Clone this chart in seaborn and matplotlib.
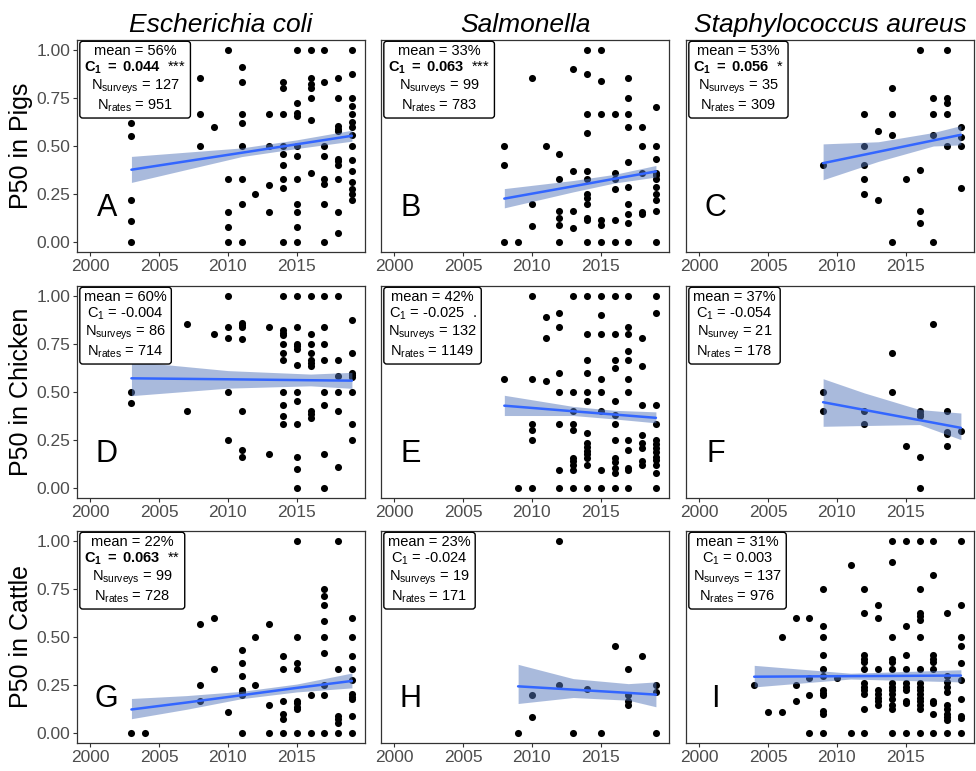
import numpy as np
import pandas as pd
import matplotlib
matplotlib.use("Agg")
import matplotlib.pyplot as plt
import seaborn as sns
from matplotlib import font_manager

# bacteria (columns) and hosts (rows)
BACTERIA = ["Escherichia coli", "Salmonella", "Staphylococcus aureus"]
HOSTS = ["Pigs", "Chicken", "Cattle"]
PANEL_LETTERS = ["A", "B", "C", "D", "E", "F", "G", "H", "I"]

# survey-level P50 values by year, one dict per panel
A_POINTS = {
    2003: [0.62, 0.55, 0.22, 0.11, 0.0],
    2008: [0.855, 0.665, 0.5],
    2009: [0.6],
    2010: [1.0, 0.33, 0.16, 0.08, 0.0],
    2011: [0.91, 0.83, 0.665, 0.62, 0.5, 0.33, 0.2, 0.0],
    2012: [0.25],
    2013: [0.665, 0.5, 0.3, 0.16],
    2014: [0.83, 0.8, 0.665, 0.5, 0.46, 0.4, 0.33, 0.28, 0.0],
    2015: [1.0, 0.725, 0.67, 0.655, 0.5, 0.45, 0.33, 0.2, 0.16, 0.08, 0.0],
    2016: [1.0, 0.855, 0.82, 0.8, 0.75, 0.635, 0.36],
    2017: [1.0, 0.83, 0.5, 0.45, 0.33, 0.305, 0.2, 0.0],
    2018: [0.855, 0.75, 0.605, 0.59, 0.58, 0.43, 0.42, 0.4, 0.33, 0.16, 0.05],
    2019: [1.0, 0.875, 0.75, 0.71, 0.665, 0.625, 0.6, 0.555, 0.5, 0.425,
           0.37, 0.315, 0.275, 0.25, 0.22],
}
B_POINTS = {
    2008: [0.5, 0.4, 0.0],
    2009: [0.0],
    2010: [0.855, 0.2, 0.085],
    2011: [0.5],
    2012: [0.46, 0.33, 0.165, 0.125, 0.09, 0.0],
    2013: [0.9, 0.37, 0.165, 0.075],
    2014: [1.0, 0.875, 0.665, 0.57, 0.37, 0.33, 0.25, 0.23, 0.2, 0.125, 0.115, 0.0],
    2015: [1.0, 0.835, 0.665, 0.115, 0.09, 0.0],
    2016: [0.665, 0.36, 0.33, 0.275, 0.115, 0.0],
    2017: [0.855, 0.75, 0.665, 0.6, 0.415, 0.285, 0.2, 0.145, 0.1, 0.0],
    2018: [0.6, 0.5, 0.36, 0.155, 0.145],
    2019: [0.7, 0.5, 0.43, 0.36, 0.35, 0.33, 0.285, 0.25, 0.22, 0.165, 0.0],
}
C_POINTS = {
    2009: [0.4],
    2012: [0.665, 0.5, 0.4, 0.33, 0.25],
    2013: [0.58, 0.22],
    2014: [0.8, 0.665, 0.555, 0.0],
    2015: [0.33],
    2016: [1.0, 0.375, 0.165, 0.1],
    2017: [0.75, 0.665, 0.555, 0.0],
    2018: [1.0, 0.75, 0.725, 0.665, 0.5],
    2019: [0.6, 0.545, 0.5, 0.28],
}
D_POINTS = {
    2003: [0.5, 0.445],
    2007: [0.855, 0.4],
    2009: [0.8],
    2010: [1.0, 0.835, 0.78, 0.5, 0.25],
    2011: [0.86, 0.85, 0.835, 0.775, 0.4, 0.2, 0.165],
    2013: [0.835, 0.18],
    2014: [1.0, 0.82, 0.805, 0.795, 0.75, 0.7, 0.665, 0.5, 0.43, 0.375, 0.335],
    2015: [1.0, 0.835, 0.75, 0.74, 0.725, 0.64, 0.5, 0.455, 0.335, 0.165, 0.1, 0.0],
    2016: [1.0, 0.8, 0.75, 0.7, 0.665, 0.65, 0.635, 0.4, 0.385, 0.365],
    2017: [1.0, 0.835, 0.75, 0.665, 0.5, 0.43, 0.18, 0.0],
    2018: [1.0, 0.665, 0.585, 0.5, 0.4, 0.11],
    2019: [0.875, 0.7, 0.6, 0.59, 0.58, 0.5, 0.335, 0.25],
}
E_POINTS = {
    2008: [0.57],
    2009: [0.0],
    2010: [1.0, 0.57, 0.335, 0.305, 0.25, 0.0],
    2011: [0.89, 0.78, 0.555],
    2012: [0.91, 0.835, 0.6, 0.5, 0.335, 0.095, 0.0],
    2013: [1.0, 0.5, 0.4, 0.335, 0.305, 0.16, 0.14, 0.12, 0.095, 0.0],
    2014: [1.0, 0.8, 0.665, 0.6, 0.5, 0.455, 0.285, 0.235, 0.215, 0.195,
           0.18, 0.16, 0.12, 0.0],
    2015: [1.0, 0.9, 0.8, 0.57, 0.5, 0.4, 0.095, 0.0],
    2016: [1.0, 0.8, 0.665, 0.625, 0.455, 0.38, 0.335, 0.25, 0.16, 0.135,
           0.105, 0.08, 0.0],
    2017: [1.0, 0.835, 0.8, 0.715, 0.665, 0.57, 0.5, 0.25, 0.2, 0.105, 0.095, 0.0],
    2018: [0.78, 0.635, 0.43, 0.275, 0.235, 0.21, 0.14, 0.12],
    2019: [1.0, 0.91, 0.43, 0.335, 0.25, 0.23, 0.21, 0.19, 0.165, 0.145,
           0.12, 0.08, 0.0],
}
F_POINTS = {
    2009: [0.5, 0.4],
    2012: [0.4, 0.335],
    2014: [0.7, 0.5],
    2015: [0.22],
    2016: [0.4, 0.385, 0.375, 0.165, 0.0],
    2017: [0.855],
    2018: [0.4, 0.29, 0.28, 0.22],
    2019: [0.3],
}
G_POINTS = {
    2003: [0.0],
    2004: [0.0],
    2008: [0.57, 0.25, 0.17],
    2009: [0.6, 0.335],
    2010: [0.11],
    2011: [0.43, 0.365, 0.3, 0.225, 0.215, 0.2, 0.0],
    2012: [0.5, 0.25],
    2013: [0.57, 0.145, 0.0],
    2014: [0.4, 0.335, 0.17, 0.1, 0.075, 0.0],
    2015: [1.0, 0.5, 0.365, 0.335, 0.17, 0.155, 0.135, 0.125, 0.0],
    2016: [0.2, 0.0],
    2017: [0.75, 0.715, 0.665, 0.585, 0.5, 0.415, 0.25, 0.2, 0.0],
    2018: [1.0, 0.335, 0.09, 0.075, 0.055, 0.0],
    2019: [0.6, 0.5, 0.4, 0.335, 0.275, 0.205, 0.19, 0.18, 0.09, 0.0],
}
H_POINTS = {
    2009: [0.0],
    2010: [0.2, 0.085],
    2012: [1.0, 0.25],
    2013: [0.0],
    2014: [0.23],
    2015: [0.0],
    2016: [0.455],
    2017: [0.335, 0.2, 0.17, 0.145],
    2018: [0.4],
    2019: [0.25, 0.215, 0.0],
}
I_POINTS = {
    2004: [0.25],
    2005: [0.11],
    2006: [0.5, 0.11],
    2007: [0.6, 0.25, 0.17],
    2008: [0.6, 0.285, 0.2, 0.0],
    2009: [0.75, 0.555, 0.5, 0.405, 0.335, 0.3, 0.225, 0.21, 0.2, 0.115, 0.1, 0.0],
    2010: [0.285],
    2011: [0.875, 0.0],
    2012: [0.75, 0.625, 0.405, 0.385, 0.37, 0.335, 0.26, 0.24, 0.225, 0.205, 0.125, 0.0],
    2013: [0.665, 0.6, 0.335, 0.225, 0.205, 0.185, 0.17, 0.145],
    2014: [1.0, 0.89, 0.5, 0.385, 0.37, 0.335, 0.26, 0.24, 0.225, 0.205,
           0.18, 0.145, 0.125, 0.0],
    2015: [1.0, 0.555, 0.405, 0.335, 0.26, 0.24, 0.225, 0.17, 0.155, 0.0],
    2016: [1.0, 0.75, 0.625, 0.61, 0.59, 0.5, 0.335, 0.26, 0.24, 0.225, 0.205,
           0.185, 0.17, 0.145, 0.125, 0.0],
    2017: [1.0, 0.82, 0.405, 0.385, 0.37, 0.335, 0.17, 0.155, 0.1, 0.0],
    2018: [0.625, 0.3, 0.265, 0.24, 0.215, 0.145, 0.125, 0.1, 0.085, 0.07, 0.0],
    2019: [1.0, 0.665, 0.5, 0.455, 0.365, 0.275, 0.18, 0.09, 0.08, 0.0],
}

# fitted trend and confidence band
A_FIT = {"year": [2003, 2011, 2015, 2019], "fit": [0.377, 0.465, 0.509, 0.553],
         "lo": [0.311, 0.445, 0.487, 0.525], "hi": [0.446, 0.490, 0.532, 0.582]}
B_FIT = {"year": [2008, 2013, 2016, 2019], "fit": [0.227, 0.291, 0.330, 0.368],
         "lo": [0.179, 0.262, 0.308, 0.339], "hi": [0.279, 0.321, 0.353, 0.399]}
C_FIT = {"year": [2009, 2013, 2017, 2019], "fit": [0.411, 0.470, 0.529, 0.558],
         "lo": [0.325, 0.420, 0.500, 0.506], "hi": [0.511, 0.522, 0.570, 0.606]}
D_FIT = {"year": [2003, 2010, 2016, 2019], "fit": [0.571, 0.566, 0.561, 0.559],
         "lo": [0.481, 0.520, 0.532, 0.519], "hi": [0.659, 0.611, 0.593, 0.602]}
E_FIT = {"year": [2008, 2013, 2016, 2019], "fit": [0.429, 0.400, 0.383, 0.366],
         "lo": [0.378, 0.378, 0.360, 0.340], "hi": [0.483, 0.425, 0.405, 0.397]}
F_FIT = {"year": [2009, 2012, 2016, 2019], "fit": [0.447, 0.407, 0.354, 0.314],
         "lo": [0.322, 0.326, 0.331, 0.253], "hi": [0.569, 0.495, 0.409, 0.391]}
G_FIT = {"year": [2003, 2007, 2011, 2015, 2019], "fit": [0.124, 0.160, 0.198, 0.236, 0.272],
         "lo": [0.076, 0.125, 0.180, 0.215, 0.236], "hi": [0.181, 0.196, 0.218, 0.256, 0.313]}
H_FIT = {"year": [2009, 2013, 2017, 2019], "fit": [0.244, 0.227, 0.210, 0.201],
         "lo": [0.155, 0.186, 0.172, 0.138], "hi": [0.358, 0.284, 0.258, 0.267]}
I_FIT = {"year": [2004, 2011, 2019], "fit": [0.294, 0.297, 0.300],
         "lo": [0.241, 0.282, 0.267], "hi": [0.353, 0.312, 0.330]}

# annotation box contents
MEANS = [56, 33, 53, 60, 42, 37, 22, 23, 31]
C1 = ["0.044", "0.063", "0.056", "-0.004", "-0.025", "-0.054", "0.063", "-0.024", "0.003"]
SIGNIF = ["***", "***", "*", "", ".", "", "**", "", ""]
N_SURVEYS = [127, 99, 35, 86, 132, 21, 99, 19, 137]
SURVEY_LABEL = ["surveys"] * 5 + ["survey"] + ["surveys"] * 3
N_RATES = [951, 783, 309, 714, 1149, 178, 728, 171, 976]

POINTS = [A_POINTS, B_POINTS, C_POINTS, D_POINTS, E_POINTS, F_POINTS,
          G_POINTS, H_POINTS, I_POINTS]
FITS = [A_FIT, B_FIT, C_FIT, D_FIT, E_FIT, F_FIT, G_FIT, H_FIT, I_FIT]

sns.set_style("white")
plt.rcParams["font.family"] = ["Liberation Sans", "DejaVu Sans"]
plt.rcParams["text.color"] = "black"
plt.rcParams["axes.labelcolor"] = "black"
plt.rcParams["mathtext.fontset"] = "custom"
plt.rcParams["mathtext.rm"] = "Liberation Sans"
plt.rcParams["mathtext.it"] = "Liberation Sans:italic"
plt.rcParams["mathtext.bf"] = "Liberation Sans:bold"

installed = {f.name for f in font_manager.fontManager.ttflist}
title_family = "Liberation Sans Narrow" if "Liberation Sans Narrow" in installed else "Liberation Sans"
title_size = 23 if title_family == "Liberation Sans Narrow" else 19

W, H = 976, 771
fig = plt.figure(figsize=(W / 100, H / 100), dpi=100)

col_left = [77, 381, 686]
row_top = [40, 286, 531]
ax_w, ax_h = 288, 212

for i in range(9):
    r, c = divmod(i, 3)
    ax = fig.add_axes([col_left[c] / W, 1 - (row_top[r] + ax_h) / H, ax_w / W, ax_h / H])

    df = pd.DataFrame(
        [(yr, v) for yr, vals in POINTS[i].items() for v in vals],
        columns=["year", "p50"],
    )
    sns.scatterplot(data=df, x="year", y="p50", ax=ax, color="black",
                    s=26, linewidth=0, zorder=2)

    fit = FITS[i]
    ax.fill_between(fit["year"], fit["lo"], fit["hi"], color="#5577bb",
                    alpha=0.5, linewidth=0, zorder=3)
    sns.lineplot(x=fit["year"], y=fit["fit"], ax=ax, color="#3366FF",
                 linewidth=1.8, zorder=4)

    ax.set_xlim(1999.05, 2019.95)
    ax.set_ylim(-0.05, 1.05)
    ax.set_xticks([2000, 2005, 2010, 2015])
    ax.set_yticks([0, 0.25, 0.5, 0.75, 1.0])
    ax.set_yticklabels(["0.00", "0.25", "0.50", "0.75", "1.00"])
    ax.tick_params(axis="both", labelsize=12.5, labelcolor="#4D4D4D",
                   color="#333333", length=3, width=0.8, pad=2, direction="out")
    ax.tick_params(left=True, bottom=True)
    for sp in ax.spines.values():
        sp.set_color("#333333")
        sp.set_linewidth(0.9)
    ax.set_xlabel("")
    if c == 0:
        ax.set_ylabel(f"P50 in {HOSTS[r]}", fontsize=18, labelpad=2)
    else:
        ax.set_ylabel("")
        ax.tick_params(left=False, labelleft=False)
    if r == 0:
        ax.set_title(BACTERIA[c], fontsize=title_size, fontstyle="italic",
                     family=title_family, pad=6)

    if SIGNIF[i] in ("*", "**", "***"):
        c1_line = r"$\mathbf{C_1\ =\ " + C1[i] + "}$  " + SIGNIF[i]
    else:
        c1_line = r"C$_1$ = " + C1[i] + ("  " + SIGNIF[i] if SIGNIF[i] else "")
    label = "\n".join([
        f"mean = {MEANS[i]}%",
        c1_line,
        r"N$_{\rm " + SURVEY_LABEL[i] + "}$ = " + str(N_SURVEYS[i]),
        r"N$_{\rm rates}$ = " + str(N_RATES[i]),
    ])
    ax.text(0.025, 0.98, label, transform=ax.transAxes, ha="left", va="top",
            fontsize=10.5, multialignment="center", linespacing=1.12, zorder=5,
            bbox=dict(boxstyle="round,pad=0.3,rounding_size=0.2",
                      facecolor="white", edgecolor="black", linewidth=1))

    ax.text(2001.2, 0.18, PANEL_LETTERS[i], fontsize=22, ha="center",
            va="center", zorder=5)

fig.savefig("out.png", dpi=100)
plt.close(fig)
